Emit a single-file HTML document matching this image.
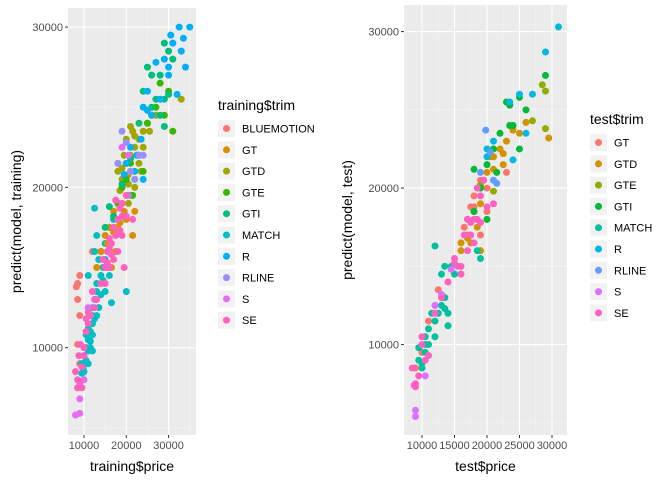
<!DOCTYPE html>
<html><head><meta charset="utf-8"><style>
body{margin:0;background:#fff;font-family:"Liberation Sans",sans-serif}
svg text{font-family:"Liberation Sans",sans-serif}
</style></head><body>
<svg id="c" width="672" height="480" xmlns="http://www.w3.org/2000/svg"></svg>
<script>
// ---- training data ----
const trainTrims=["BLUEMOTION","GT","GTD","GTE","GTI","MATCH","R","RLINE","S","SE"];
const trainColors=["#F8766D","#D89000","#A3A500","#39B600","#00BF7D","#00BFC4","#00B0F6","#9590FF","#E76BF3","#FF62BC"];
const trainPoints={
BLUEMOTION:[[8500,14000],[8200,13800],[9000,14500],[8500,13000],[9000,12000],[12000,16000],[8500,10200],[9000,9000]],
MATCH:[[9500,9000],[10000,9500],[10500,10000],[11000,10500],[11500,11000],[12000,11500],[10000,8500],[11000,9800],[12000,12500],[12500,13000],[13000,13500],[13000,14000],[14000,14500],[14500,15000],[15000,15500],[15000,16500],[13000,17000],[12500,16000],[12500,18700],[16500,12800],[20000,13500],[11500,10000],[10500,9200],[9800,8700],[12000,10800],[13500,15500],[14000,16000],[16000,17500],[17000,18000],[11000,14500],[12000,12000],[13500,12500],[15000,13500],[16000,14500],[10500,10800],[11000,11200],[11500,10400],[12500,11800],[13000,12000],[14000,13300],[9500,8400],[10000,9000],[12000,9800],[11000,9000],[14500,14200],[15500,15000]],
SE:[[8500,8000],[9000,7800],[8500,7500],[9500,8800],[10000,10000],[10500,11000],[11000,11500],[11500,12000],[12500,12500],[13000,13000],[14000,14000],[15000,15000],[15500,16000],[16500,16500],[17000,17500],[18000,18000],[19000,19000],[20000,19500],[19000,17000],[18000,16000],[17000,15500],[16000,15000],[19500,15000],[21500,18000],[9500,7500],[8000,8500],[10000,9500],[12000,13500],[14500,15500],[16000,16200],[18500,18700],[20000,18200],[17500,19200],[15000,14000],[8800,9500],[9200,10200],[10500,11800],[11000,12200],[15500,15300],[16500,15800],[17500,17000],[18500,17300],[19000,18200],[16000,16800]],
S:[[8000,5800],[9000,5900],[9000,6800],[10000,8000],[11000,12500],[12000,13500],[12500,13000],[19000,22500],[20500,22000]],
GT:[[14000,16000],[15000,17000],[16000,17500],[17000,18500],[18000,19000],[19000,20000],[20000,19500],[21000,19500],[22000,18500],[17500,16000],[16500,15000],[13000,15000],[20500,20800],[15500,16500],[18500,17800],[21500,17000],[16000,16000],[17000,17200],[19500,18500],[18000,17500],[20000,18000]],
GTD:[[18000,21000],[19000,20500],[20000,21500],[21000,22000],[22000,22500],[23000,23000],[24000,23500],[25000,24000],[26000,24500],[20000,23000],[21000,21000],[22000,20000],[23000,21500],[24000,22500],[21500,23500],[19500,22000],[22500,22000],[25500,23500],[27000,24500],[33000,25500],[20500,19000],[18500,19800],[23500,21000],[21000,23800],[22000,23200],[19000,21200],[20500,20200]],
GTE:[[19000,20000],[21000,21500],[23000,22000],[22000,20500],[25000,24000],[27000,25000],[28000,26500],[29000,24500],[30000,26000],[31000,23500],[24000,21000],[21500,19500],[18000,19000],[20000,20500]],
GTI:[[24000,26000],[25000,27500],[26000,27000],[27000,25500],[28000,27000],[29000,29000],[30000,28500],[31000,28000],[29000,25500],[28000,24500],[29000,23800],[26000,25000],[30000,25800],[23000,24000],[16000,18800],[15000,17500],[17000,18200],[19000,20200],[21000,21800]],
R:[[24000,25000],[25000,26000],[26000,24500],[27000,27800],[28000,25500],[30000,27500],[30500,29500],[31000,29000],[32500,30000],[33500,29300],[35000,30000],[33000,28500],[34000,27500],[32000,25800],[22000,21000],[20000,21500],[21000,22500],[24000,20500],[23500,23000],[29000,28000],[30000,27000],[25000,24800],[22500,22000],[19500,20800]],
RLINE:[[19000,23500],[20000,22800],[21000,21000],[22000,20500],[23000,22000],[18000,21500],[24000,22000],[20500,19500]]
};
const trainDrawOrder=["BLUEMOTION","MATCH","GT","GTD","GTE","GTI","R","RLINE","S","SE"];
const trainXTicks=[10000,20000,30000];
const trainYTicks=[10000,20000,30000];
// ---- test data ----
const testTrims=["GT","GTD","GTE","GTI","MATCH","R","RLINE","S","SE"];
const testColors=["#F8766D","#D39200","#93AA00","#00BA38","#00C19F","#00B9E3","#619CFF","#DB72FB","#FF61C3"];
const testPoints={
GT:[[17000,18000],[18000,19500],[19000,20500],[16500,17500],[20000,18500],[19000,17000],[13500,13000],[12000,12500],[11000,11500],[10000,9500],[23000,21000],[18000,18800],[12500,13500],[9000,8500],[17500,18800],[20000,20000]],
GTD:[[16000,16500],[17000,17000],[18000,18500],[19000,19000],[20000,21000],[21000,22000],[22000,22500],[23000,23000],[24000,24000],[25000,23500],[26000,24200],[29500,23200],[22500,21500],[21000,21200],[17500,16500],[19000,16000],[18500,17500],[20500,22000],[16000,16000],[17000,16800],[22500,22200],[24000,23700]],
GTE:[[27000,24300],[28500,26600],[29000,26200],[29000,23800],[21000,19800],[19000,20200]],
GTI:[[18000,21200],[19000,20000],[20000,21500],[21000,22500],[22000,23500],[23000,25500],[24000,24000],[25000,25800],[26000,25000],[29000,27200],[25000,22500],[21500,21000],[18000,18500],[20000,18000],[23500,25300],[23500,24000]],
MATCH:[[9500,9000],[10000,8500],[10500,9500],[11000,10000],[11000,11000],[11500,12000],[12000,11500],[12500,12000],[13000,12500],[13500,13000],[14000,12000],[13000,14500],[13500,15000],[14500,15000],[12000,16300],[18500,16000],[19000,15500],[14000,11200],[12000,10500],[10500,10500],[9500,9800],[15000,14500],[10000,8800],[10500,10000],[13500,12300]],
R:[[20000,22500],[21000,23000],[24000,21800],[25000,26000],[27000,26000],[26000,23500],[29000,28700],[31000,30300],[23500,25500],[20000,22000]],
RLINE:[[19800,23700],[20500,22300],[21000,20500],[21500,20300],[19000,21000]],
S:[[9000,5800],[9000,5400],[10500,8000],[12000,12500],[13000,13200],[14500,14800]],
SE:[[8500,8500],[9000,7500],[9000,7300],[9500,8000],[10000,10500],[10000,10000],[10500,9000],[11000,9300],[12000,12000],[13000,13000],[14000,14000],[15000,15500],[15500,15000],[16000,15000],[17000,16000],[17500,17000],[18000,18000],[18500,18000],[19000,19500],[19500,20500],[20000,18800],[17000,18000],[16500,17000],[21000,19000],[18000,16500],[19000,17800],[16000,14500],[8800,7400],[15000,15200],[17500,17800],[18500,20000]]
};
const testXTicks=[10000,15000,20000,25000,30000];
const testYTicks=[10000,20000,30000];

const NS="http://www.w3.org/2000/svg";
const svg=document.getElementById('c');
function el(t,a,p){const e=document.createElementNS(NS,t);for(const k in a)e.setAttribute(k,a[k]);(p||svg).appendChild(e);return e;}

function panel(o){
  const g=el('g',{});
  
  
  const sx=v=>o.x0+(v-o.xmin)/(o.xmax-o.xmin)*(o.x1-o.x0);
  const sy=v=>o.y1-(v-o.ymin)/(o.ymax-o.ymin)*(o.y1-o.y0);
  el('rect',{x:o.x0,y:o.y0,width:o.x1-o.x0,height:o.y1-o.y0,fill:'#EBEBEB'},g);
  const xt=o.xt,yt=o.yt;
  const xs=xt[1]-xt[0],ys=yt[1]-yt[0];
  for(let v=xt[0]-xs/2;v<=o.xmax;v+=xs){if(v>=o.xmin)el('line',{x1:sx(v),x2:sx(v),y1:o.y0,y2:o.y1,stroke:'#F5F5F5','stroke-width':0.6},g);}
  for(let v=yt[0]-ys/2;v<=o.ymax;v+=ys){if(v>=o.ymin)el('line',{y1:sy(v),y2:sy(v),x1:o.x0,x2:o.x1,stroke:'#F5F5F5','stroke-width':0.6},g);}
  xt.forEach(v=>{
    el('line',{x1:sx(v),x2:sx(v),y1:o.y0,y2:o.y1,stroke:'#fff','stroke-width':1.1},g);
    el('line',{x1:sx(v),x2:sx(v),y1:o.y1,y2:o.y1+3,stroke:'#333','stroke-width':1},g);
    const t=el('text',{x:sx(v),y:o.y1+14,'text-anchor':'middle','font-size':11,fill:'#4D4D4D'},g);t.textContent=v;
    
  });
  yt.forEach(v=>{
    el('line',{y1:sy(v),y2:sy(v),x1:o.x0,x2:o.x1,stroke:'#fff','stroke-width':1.1},g);
    el('line',{y1:sy(v),y2:sy(v),x1:o.x0-3,x2:o.x0,stroke:'#333','stroke-width':1},g);
    const t=el('text',{x:o.x0-5,y:sy(v)+4,'text-anchor':'end','font-size':11,fill:'#4D4D4D'},g);t.textContent=v;
    
  });
  o.order.forEach(k=>{
    const col=o.colors[o.trims.indexOf(k)];
    o.pts[k].forEach(p=>{
      const c=el('circle',{cx:sx(p[0]),cy:sy(p[1]),r:3.5,fill:col},g);
      
      
    });
  });
  const xtT=el('text',{x:(o.x0+o.x1)/2,y:471,'text-anchor':'middle','font-size':14,fill:'#000'},g);xtT.textContent=o.xlab;
  
  const ytT=el('text',{x:0,y:0,'text-anchor':'middle','font-size':14,fill:'#000',transform:`translate(${o.ylx},${(o.y0+o.y1)/2}) rotate(-90)`},g);ytT.textContent=o.ylab;
  
  const lg=el('g',{},g);
  
  
  const tt=el('text',{x:o.lx,y:o.ly,'font-size':14,fill:'#000'},lg);tt.textContent=o.ltitle;
  
  o.trims.forEach((k,i)=>{
    const y=o.ly+10+i*21.3;
    const e=el('g',{},lg);
    
    
    el('rect',{x:o.lx,y:y,width:17,height:17,fill:'#F2F2F2'},e);
    el('circle',{cx:o.lx+8.5,cy:y+8.5,r:3.5,fill:o.colors[i]},e);
    const t=el('text',{x:o.lx+24,y:y+12.5,'font-size':11,fill:'#000'},e);t.textContent=k;
  });
}
panel({name:'training-panel',x0:68,x1:196,y0:8,y1:435,xmin:6220,xmax:36480,ymin:4550,ymax:31190,
  xt:trainXTicks,yt:trainYTicks,pts:trainPoints,trims:trainTrims,colors:trainColors,order:trainDrawOrder,
  xlab:'training$price',ylab:'predict(model, training)',ylx:21,lx:218,ly:110,ltitle:'training$trim'});
panel({name:'test-panel',x0:404,x1:567,y0:5,y1:435,xmin:7230,xmax:32310,ymin:4220,ymax:31700,
  xt:testXTicks,yt:testYTicks,pts:testPoints,trims:testTrims,colors:testColors,order:testTrims,
  xlab:'test$price',ylab:'predict(model, test)',ylx:352,lx:590,ly:124,ltitle:'test$trim'});
</script>
</body></html>
